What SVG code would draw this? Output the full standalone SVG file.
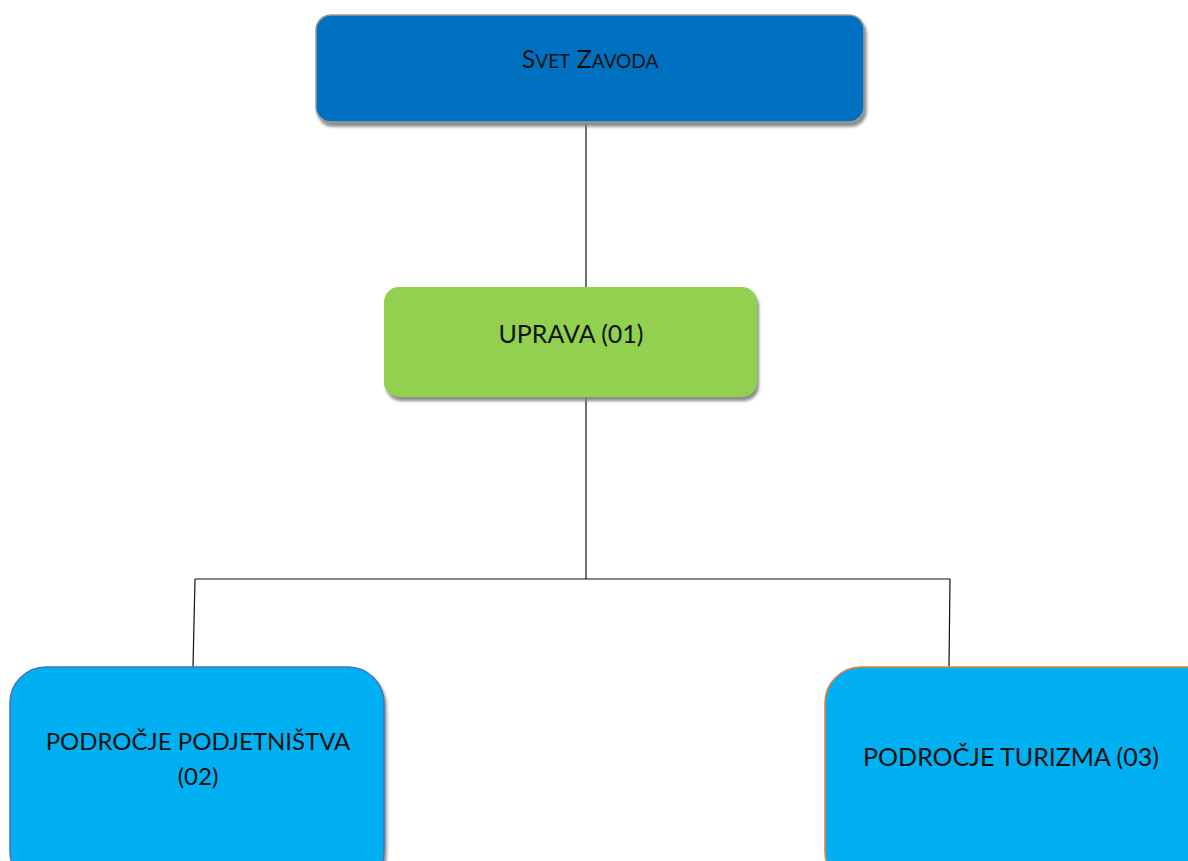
<svg xmlns="http://www.w3.org/2000/svg" width="1188" height="861" viewBox="0 0 1188 861">
<style>
.t{font-family:Lato,"Open Sans","Liberation Sans",sans-serif;font-size:25px;fill:#111;text-anchor:middle}
.sm{font-size:24px}
.sc{font-size:19px}
.conn line{stroke:#111;stroke-width:1.2;fill:none}
</style>
<defs>
<filter id="sh" x="-10%" y="-10%" width="120%" height="130%">
<feOffset dx="2" dy="4" in="SourceAlpha" result="o"/>
<feGaussianBlur in="o" stdDeviation="1.5" result="b"/>
<feFlood flood-color="#808080" flood-opacity="0.9"/>
<feComposite in2="b" operator="in" result="s"/>
<feMerge><feMergeNode in="s"/><feMergeNode in="SourceGraphic"/></feMerge>
</filter>
</defs>
<rect width="1188" height="861" fill="#fff"/>
<g class="conn">
<line x1="586" y1="123" x2="586" y2="287"/>
<line x1="586" y1="397" x2="586" y2="579"/>
<line x1="195" y1="579" x2="950" y2="579"/>
<line x1="195" y1="579" x2="193" y2="667"/>
<line x1="950" y1="579" x2="949" y2="667"/>
</g>
<g id="svet">
<rect x="316" y="15" width="548" height="107" rx="15" fill="#0070C0" stroke="#9a9a9a" stroke-width="1.5" filter="url(#sh)"/>
<text class="t" x="590" y="68">S<tspan class="sc">VET</tspan> Z<tspan class="sc">AVODA</tspan></text>
</g>
<g id="uprava">
<rect x="384" y="287" width="373" height="110" rx="15" fill="#92D050" filter="url(#sh)"/>
<text class="t" x="571" y="343">UPRAVA (01)</text>
</g>
<g id="podjetnistvo">
<rect x="10" y="667" width="374" height="220" rx="36" fill="#00B0F0" stroke="#4472C4" stroke-width="1.5" filter="url(#sh)"/>
<text class="t sm" x="198" y="750">PODROČJE PODJETNIŠTVA</text>
<text class="t sm" x="198" y="785">(02)</text>
</g>
<g id="turizem">
<rect x="825" y="667" width="400" height="220" rx="36" fill="#00B0F0" stroke="#ED7D31" stroke-width="1.5" filter="url(#sh)"/>
<text class="t" x="1011" y="766">PODROČJE TURIZMA (03)</text>
</g>
</svg>
